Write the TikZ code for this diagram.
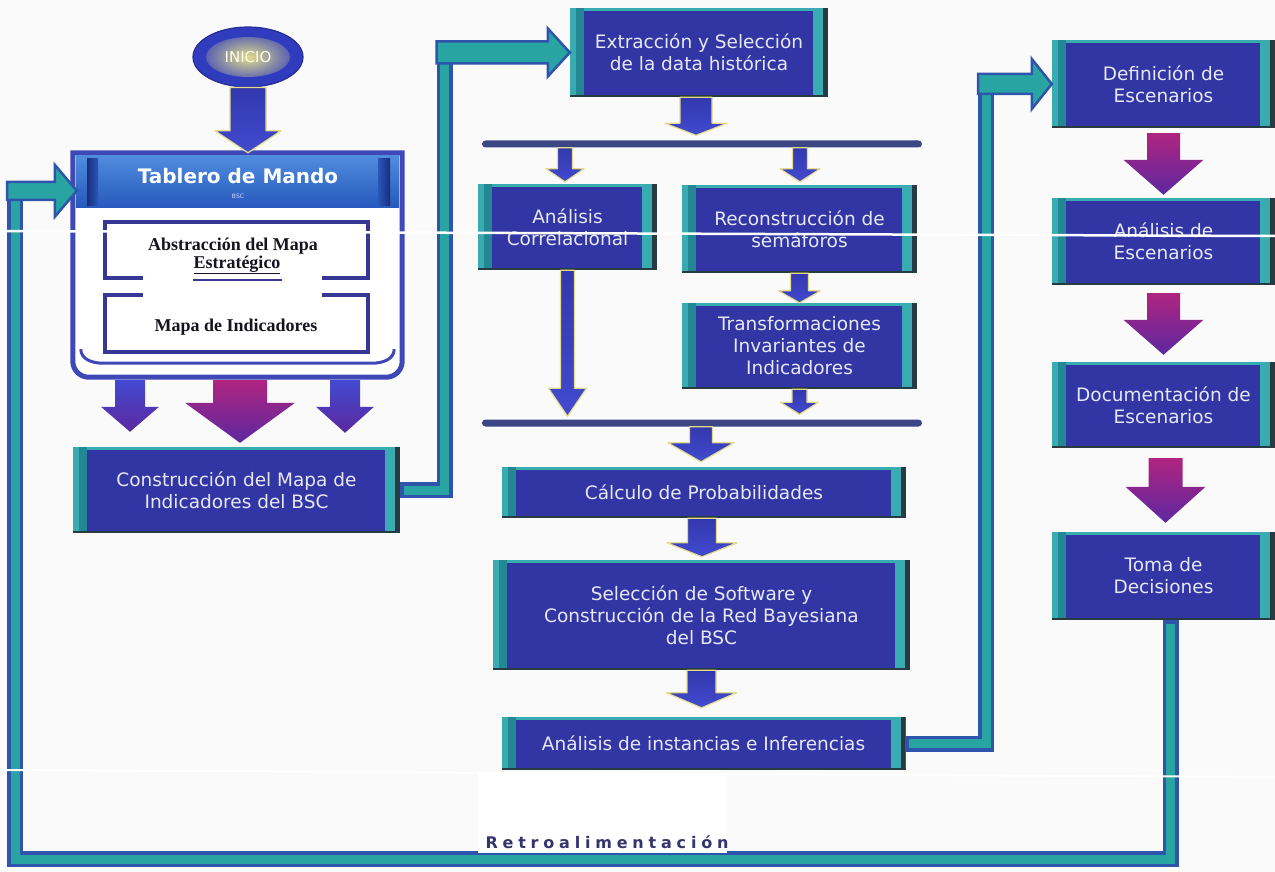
\documentclass[tikz,border=0pt]{standalone}
\usepackage{fontspec}
\setmainfont{DejaVu Sans}
\newfontfamily\serifbf{Liberation Serif}
\newfontfamily\retrofont[LetterSpace=30]{DejaVu Sans}
\usetikzlibrary{calc,shapes.geometric}

\definecolor{bgcol}{RGB}{250,250,250}
\definecolor{boxblue}{RGB}{50,54,165}
\definecolor{stripteal}{RGB}{56,172,176}
\definecolor{stripdark}{RGB}{36,136,148}
\definecolor{boxshadow}{RGB}{40,58,66}
\definecolor{boxtext}{RGB}{230,232,242}
\definecolor{linkteal}{RGB}{40,165,162}
\definecolor{linkblue}{RGB}{46,84,172}
\definecolor{barcol}{RGB}{60,70,132}
\definecolor{framecol}{RGB}{62,72,182}
\definecolor{innerblue}{RGB}{55,55,150}
\definecolor{headtop}{RGB}{80,140,222}
\definecolor{headbot}{RGB}{38,88,188}
\definecolor{headdark}{RGB}{28,44,120}
\definecolor{arrowtop}{RGB}{50,56,172}
\definecolor{arrowbot}{RGB}{66,74,208}
\definecolor{purptop}{RGB}{176,36,128}
\definecolor{purpbot}{RGB}{92,40,160}
\definecolor{glow}{RGB}{226,220,140}
\definecolor{inicioblue}{RGB}{48,60,190}
\definecolor{inicioedge}{RGB}{40,44,150}
\definecolor{retro}{RGB}{52,52,110}
\definecolor{serifink}{RGB}{20,20,30}

\tikzset{
  stepbox/.style={rectangle, inner sep=0pt, fill=stripteal, text=boxtext, align=center,
    font=\fontsize{18.5}{22}\selectfont,
    path picture={
      \fill[stripdark] ([xshift=6pt]path picture bounding box.north west) rectangle ([xshift=14pt]path picture bounding box.south west);
      \fill[boxblue] ([xshift=14pt,yshift=-3pt]path picture bounding box.north west) rectangle ([xshift=-15pt,yshift=2pt]path picture bounding box.south east);
      \fill[boxshadow] ([xshift=-5pt]path picture bounding box.north east) rectangle (path picture bounding box.south east);
      \fill[boxshadow] (path picture bounding box.south west) rectangle ([yshift=2pt]path picture bounding box.south east);
    }},
  splitbar/.style={rectangle, fill=barcol, inner sep=0pt, minimum height=7pt, minimum width=440pt, rounded corners=3.5pt},
  bluearrow/.style={top color=arrowtop, bottom color=arrowbot, draw=glow, line width=1.2pt, line join=round},
  purplearrow/.style={top color=purptop, bottom color=purpbot},
  sidearrow/.style={top color=arrowbot, bottom color=purpbot},
  midarrow/.style={top color=purptop, bottom color=purpbot},
  linkouter/.style={draw=linkblue, line width=16pt, line cap=rect, line join=miter},
  linkinner/.style={draw=linkteal, line width=9pt, line cap=rect, line join=miter},
  linkhead/.style={fill=linkteal, draw=linkblue, line width=2.5pt, line join=miter},
  serifnote/.style={text=serifink, font=\serifbf\bfseries\fontsize{18}{20}\selectfont, inner sep=0pt},
}

% downward block arrow: style, start point, tip point, shaft half width, head half width, head length
\newcommand\blockdown[6]{%
  \path[#1] let \p1=#2, \p2=#3 in
    (\x1-#4pt,\y1) -- (\x1+#4pt,\y1) -- (\x1+#4pt,\y2+#6pt) -- (\x1+#5pt,\y2+#6pt)
    -- (\x1,\y2) -- (\x1-#5pt,\y2+#6pt) -- (\x1-#4pt,\y2+#6pt) -- cycle;}
% rightward block arrow: style, start point, tip point, shaft half width, head half width, head length
\newcommand\blockright[6]{%
  \path[#1] let \p1=#2, \p2=#3 in
    (\x1,\y1+#4pt) -- (\x2-#6pt,\y1+#4pt) -- (\x2-#6pt,\y1+#5pt) -- (\x2,\y1)
    -- (\x2-#6pt,\y1-#5pt) -- (\x2-#6pt,\y1-#4pt) -- (\x1,\y1-#4pt) -- cycle;}
% two-tone connector band
\newcommand\linkpath[1]{\draw[linkouter] #1; \draw[linkinner] #1;}

\begin{document}
\begin{tikzpicture}[x=1pt,y=-1pt]
\useasboundingbox (0,0) rectangle (1275,872);
\fill[bgcol] (0,0) rectangle (1275,872);

% ---------- start ellipse ----------
\node[ellipse, minimum width=110pt, minimum height=60pt, inner sep=0pt, fill=inicioblue,
  draw=inicioedge, line width=1.2pt, text=white!92!yellow, font=\fontsize{15}{18}\selectfont,
  path picture={\shade[inner color=glow, outer color=inicioblue] (path picture bounding box.center) ellipse [x radius=42pt, y radius=20pt];}]
  (inicio) at (248,57) {INICIO};

% ---------- control board frame ----------
\node[rectangle, minimum width=329pt, minimum height=224pt, inner sep=0pt] (tab) at (237.5,265) {};
\draw[framecol, line width=5pt, fill=white] (tab.north west) -- ([yshift=16pt]tab.south west)
  to[out=-90,in=180] ([xshift=16pt]tab.south west) -- ([xshift=-16pt]tab.south east)
  to[out=0,in=-90] ([yshift=16pt]tab.south east) -- (tab.north east) -- cycle;
\draw[framecol, line width=3pt] ([xshift=8pt,yshift=28pt]tab.south west)
  to[out=-90,in=180] ([xshift=30pt,yshift=14pt]tab.south west) -- ([xshift=-30pt,yshift=14pt]tab.south east)
  to[out=0,in=-90] ([xshift=-8pt,yshift=28pt]tab.south east);
\shade[top color=headtop, bottom color=headbot] ([xshift=3pt,yshift=-3pt]tab.north west) rectangle ([xshift=-3pt,yshift=-55pt]tab.north east);
\shade[left color=headdark, right color=headbot] (87,159) rectangle (98,205);
\shade[left color=headbot, right color=headdark] (378,159) rectangle (390,205);
\node[text=white, font=\bfseries\fontsize{20}{24}\selectfont] (tabtitle) at (238,176) {Tablero de Mando};
\node[text=white!85!blue, font=\fontsize{6}{7}\selectfont] (tabsub) at (238,196) {BSC};

\node[draw=innerblue, line width=3.5pt, minimum width=263pt, minimum height=56pt, inner sep=0pt] (absbox) at (236.5,250) {};
\node[draw=innerblue, line width=3.5pt, minimum width=263pt, minimum height=57pt, inner sep=0pt] (mapabox) at (236.5,323.5) {};
\fill[white] (143,232) rectangle (322,317);
\node[serifnote] (abstxt) at (233,246) {Abstracción del Mapa};
\node[serifnote] (estrtxt) at (237,265) {\underline{Estratégico}};
\draw[innerblue, line width=2.5pt] (193,280) -- (282,280);
\node[serifnote] (mapatxt) at (236,327) {Mapa de Indicadores};

% ---------- process boxes ----------
\node[stepbox, minimum width=327pt, minimum height=86pt] (constr) at (236.5,490) {Construcción del Mapa de\\Indicadores del BSC};
\node[stepbox, minimum width=258pt, minimum height=89pt] (extr) at (699,52.5) {Extracción y Selección\\de la data histórica};
\node[splitbar] (bar1) at (702,144) {};
\node[stepbox, minimum width=179pt, minimum height=86pt] (analcorr) at (567.5,227) {Análisis\\Correlacional};
\node[stepbox, minimum width=235pt, minimum height=88pt] (recon) at (799.5,229) {Reconstrucción de\\semáforos};
\node[stepbox, minimum width=235pt, minimum height=86pt] (transf) at (799.5,346) {Transformaciones\\Invariantes de\\Indicadores};
\node[splitbar] (bar2) at (702,423) {};
\node[stepbox, minimum width=404pt, minimum height=51pt] (calcp) at (704,492.5) {Cálculo de Probabilidades};
\node[stepbox, minimum width=417pt, minimum height=110pt] (sel) at (701.5,615) {Selección de Software y\\Construcción de la Red Bayesiana\\del BSC};
\node[stepbox, minimum width=404pt, minimum height=53pt] (inst) at (703.5,743.5) {Análisis de instancias e Inferencias};

\node[stepbox, minimum width=223pt, minimum height=88pt] (def) at (1163.5,84) {Definición de\\Escenarios};
\node[stepbox, minimum width=223pt, minimum height=87pt] (analesc) at (1163.5,241.5) {Análisis de\\Escenarios};
\node[stepbox, minimum width=223pt, minimum height=86pt] (docesc) at (1163.5,405) {Documentación de\\Escenarios};
\node[stepbox, minimum width=223pt, minimum height=88pt] (toma) at (1163.5,576) {Toma de\\Decisiones};

% ---------- block arrows ----------
\blockdown{bluearrow}{(inicio.south)}{(tab.north)}{18}{33}{22}
\blockdown{sidearrow}{($(tab.south)+(-107.5,3)$)}{($(constr.north)+(0,-15)$)}{15}{29}{25}
\blockdown{midarrow}{($(tab.south)+(2.5,3)$)}{($(constr.north)+(0,-4)$)}{27}{55}{40}
\blockdown{sidearrow}{($(tab.south)+(107.5,3)$)}{($(constr.north)+(0,-14)$)}{15}{29}{26}

\blockdown{bluearrow}{($(extr.south)+(-3,0)$)}{($(bar1.north)+(0,-5)$)}{16}{31}{12}
\blockdown{bluearrow}{($(bar1.south -| analcorr.north)+(-2.5,0)$)}{($(analcorr.north)+(0,-2)$)}{7.5}{19}{13}
\blockdown{bluearrow}{($(bar1.south -| recon.north)+(0.5,0)$)}{($(recon.north)+(0,-3)$)}{7.5}{20}{13}
\blockdown{bluearrow}{(analcorr.south)}{($(bar2.north)+(0,-3)$)}{7}{19}{28}
\blockdown{bluearrow}{(recon.south)}{(transf.north)}{9}{21}{12}
\blockdown{bluearrow}{(transf.south)}{($(bar2.north)+(0,-5)$)}{7.5}{19}{12}
\blockdown{bluearrow}{($(bar2.south -| calcp.north)+(-3,0)$)}{($(calcp.north)+(0,-5)$)}{11.5}{33}{19}
\blockdown{bluearrow}{($(calcp.south)+(-2,0)$)}{($(sel.north)+(0,-3)$)}{14.5}{35}{14}
\blockdown{bluearrow}{(sel.south)}{($(inst.north)+(0,-9)$)}{14.5}{35}{15}

\blockdown{purplearrow}{($(def.south)+(0,5)$)}{($(analesc.north)+(0,-3)$)}{16.5}{40}{35}
\blockdown{purplearrow}{($(analesc.south)+(0,8)$)}{($(docesc.north)+(0,-7)$)}{16.5}{40}{35}
\blockdown{purplearrow}{($(docesc.south)+(2,10)$)}{($(toma.north)+(0,-9)$)}{17}{40}{36}

% ---------- connector bands ----------
\coordinate (c1x) at (444.5,0);
\linkpath{($(constr.east)+(8,0)$) -- (constr.east -| c1x) -- (c1x |- extr.west)}
\blockright{linkhead}{($(c1x |- extr.west)+(-8,0)$)}{(extr.west)}{11}{24}{22}

\coordinate (c2x) at (986,0);
\linkpath{($(inst.east)+(8,0)$) -- (inst.east -| c2x) -- (c2x |- def.west)}
\blockright{linkhead}{($(c2x |- def.west)+(-8,0)$)}{(def.west)}{10}{25}{20}

\coordinate (fbR) at ($(toma.south)+(7,0)$);
\coordinate (fbL) at (15,859);
\coordinate (tabin) at ($(tab.north west)+(4,38)$);
\linkpath{($(fbR)+(0,8)$) -- (fbR |- fbL) -- (fbL) -- (fbL |- tabin)}
\blockright{linkhead}{($(fbL |- tabin)+(-8,0)$)}{(tabin)}{9}{26}{22}

% ---------- feedback label ----------
\fill[white] (478,773) rectangle (727,853);
\node[text=retro, font=\retrofont\bfseries\fontsize{16}{18}\selectfont] (retro) at (607,842) {Retroalimentación};

% ---------- scan streaks ----------
\draw[white, line width=2.5pt] (0,231) -- (1275,236);
\draw[white, line width=2pt] (0,770) -- (1275,777);
\end{tikzpicture}
\end{document}
